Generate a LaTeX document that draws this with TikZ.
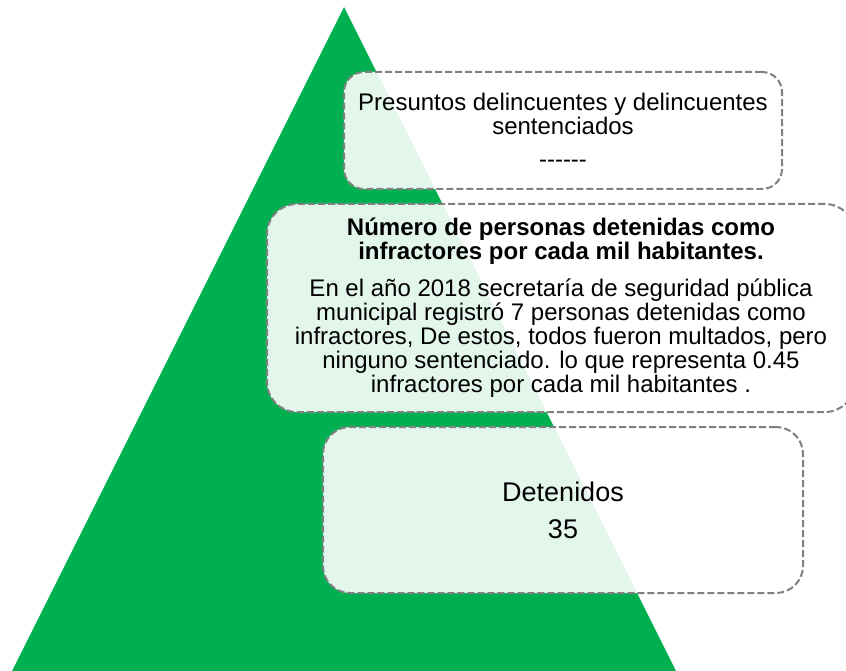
\documentclass[tikz,border=0pt]{standalone}
\usepackage{fontspec}
\setmainfont{Liberation Sans}
\definecolor{pyramidgreen}{HTML}{00B050}
\definecolor{boxgray}{HTML}{808080}
\begin{document}
\begin{tikzpicture}[x=1pt,y=-1pt,
    levelbox/.style={draw=boxgray, line width=2pt, dash pattern=on 7pt off 3pt,
      fill=white, fill opacity=0.89, text opacity=1, align=center,
      inner sep=0pt, font=\fontsize{24}{24}\selectfont}]
  \useasboundingbox (0,0) rectangle (846,671);
  \coordinate (apex) at (344,7);
  \coordinate (baseL) at (12,671);
  \coordinate (baseR) at (676,671);
  \fill[pyramidgreen] (apex) -- (baseL) -- (baseR) -- cycle;
  \node[levelbox, rounded corners=20pt, minimum width=438pt, minimum height=117pt]
    (presuntos) at (563,130.5)
    {Presuntos delincuentes y delincuentes\\sentenciados\\[9pt]-{}-{}-{}-{}-{}-};
  \node[levelbox, rounded corners=30pt, minimum width=588pt, minimum height=208pt]
    (infractores) at (561,308)
    {\textbf{Número de personas detenidas como}\\
     \textbf{infractores por cada mil habitantes.}\\[13pt]
     En el año 2018 secretaría de seguridad pública\\
     municipal registró 7 personas detenidas como\\
     infractores, De estos, todos fueron multados, pero\\
     ninguno sentenciado. lo que representa 0.45\\
     infractores por cada mil habitantes .};
  \node[levelbox, rounded corners=27pt, minimum width=480pt, minimum height=166pt,
    font=\fontsize{27}{27}\selectfont]
    (detenidos) at (563,510)
    {Detenidos\\[10pt]35};
\end{tikzpicture}
\end{document}
